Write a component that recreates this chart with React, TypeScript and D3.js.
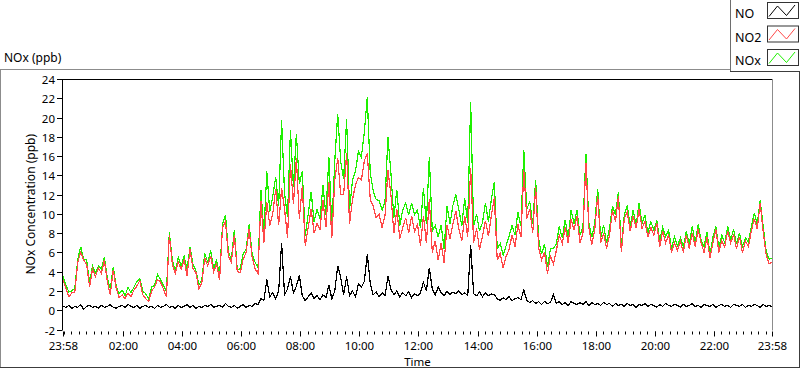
import React, { useRef, useEffect } from "react";
import * as d3 from "d3";

// one sample every 6 minutes, starting 23:58
const startTime = new Date(2020, 0, 1, 23, 58);
const endTime = new Date(2020, 0, 2, 23, 58);
const sampleStepMinutes = 6;

const noValues = [
  0.4, 0.3, 0.5, 0.2, 0.4, 0.3, 0.6, 0.1, 0.4, 0.5,
  0.3, 0.4, 0.2, 0.5, 0.3, 0.4, 0.6, 0.3, 0.2, 0.4,
  0.5, 0.3, 0.6, 0.4, 0.3, 0.5, 0.2, 0.4, 0.5, 0.3,
  0.4, 0.2, 0.5, 0.3, 0.4, 0.6, 0.3, 0.4, 0.2, 0.5,
  0.3, 0.4, 0.6, 0.3, 0.5, 0.2, 0.4, 0.3, 0.5, 0.4,
  0.6, 0.3, 0.4, 0.5, 0.3, 0.7, 0.4, 0.3, 0.5, 0.2,
  0.4, 0.6, 0.3, 0.5, 0.4, 0.7, 0.6, 1.2, 1.0, 3.2,
  1.4, 1.8, 1.2, 2.0, 7.0, 1.6, 2.2, 3.5, 1.8, 2.5,
  3.6, 1.5, 1.0, 1.4, 1.8, 1.2, 1.5, 1.1, 1.6, 1.3,
  2.6, 1.2, 2.0, 4.6, 3.4, 1.6, 3.5, 1.5, 2.0, 1.4,
  2.7, 2.4, 3.0, 5.8, 2.8, 1.6, 1.9, 1.4, 1.8, 1.5,
  3.5, 2.2, 1.6, 2.0, 1.4, 1.8, 1.5, 1.9, 1.3, 1.7,
  1.5, 1.8, 2.9, 2.0, 4.4, 2.2, 1.6, 2.4, 1.8, 1.5,
  2.0, 1.6, 1.9, 1.7, 2.0, 1.6, 1.8, 1.5, 6.8, 1.7,
  1.5, 1.9, 1.4, 1.8, 1.5, 1.7, 1.6, 1.2, 1.0, 1.3,
  1.1, 1.4, 1.0, 1.2, 1.3, 1.1, 2.1, 1.0, 0.8, 1.0,
  0.7, 0.9, 0.6, 0.9, 0.7, 0.8, 1.6, 0.7, 0.9, 0.6,
  0.8, 0.5, 0.9, 0.7, 0.6, 0.8, 0.6, 0.9, 0.5, 0.8,
  0.6, 0.7, 0.5, 0.8, 0.6, 0.7, 0.4, 0.7, 0.5, 0.6,
  0.4, 0.7, 0.5, 0.6, 0.3, 0.6, 0.5, 0.7, 0.4, 0.6,
  0.5, 0.3, 0.6, 0.4, 0.7, 0.5, 0.4, 0.6, 0.5, 0.3,
  0.6, 0.4, 0.5, 0.7, 0.4, 0.5, 0.3, 0.6, 0.5, 0.4,
  0.6, 0.3, 0.5, 0.6, 0.4, 0.5, 0.3, 0.6, 0.5, 0.4,
  0.6, 0.3, 0.5, 0.4, 0.6, 0.5, 0.3, 0.6, 0.4, 0.5, 0.4,
];

const no2Values = [
  3.1, 2.3, 1.4, 1.8, 1.9, 5.0, 6.0, 5.2, 4.8, 2.4,
  4.3, 3.5, 4.4, 3.8, 5.2, 3.0, 1.6, 4.2, 2.3, 1.3,
  1.6, 1.2, 1.8, 1.4, 2.1, 2.5, 3.1, 1.6, 1.2, 0.9,
  2.0, 2.4, 3.2, 2.9, 2.2, 1.4, 7.8, 4.8, 3.8, 5.0,
  4.3, 5.2, 3.6, 6.3, 4.3, 3.9, 2.2, 2.9, 5.4, 4.6,
  5.6, 4.0, 4.8, 3.1, 8.6, 9.2, 5.6, 5.0, 7.8, 4.0,
  3.9, 5.3, 6.0, 8.4, 5.5, 4.3, 3.8, 11.3, 7.0, 11.2,
  8.8, 10.0, 12.6, 8.8, 12.7, 10.5, 7.5, 15.2, 11.0, 15.8,
  9.5, 12.9, 6.7, 8.6, 10.5, 8.0, 9.0, 8.4, 11.4, 8.6,
  13.3, 7.5, 13.5, 15.8, 12.0, 12.0, 16.3, 9.0, 11.5, 13.0,
  13.8, 13.5, 15.5, 16.3, 11.5, 10.8, 9.6, 10.0, 8.6, 9.8,
  14.5, 12.0, 8.0, 10.5, 7.4, 8.6, 9.6, 8.0, 9.8, 8.2,
  8.9, 6.7, 9.8, 7.0, 11.5, 6.0, 7.2, 5.2, 7.0, 4.9,
  8.8, 7.4, 9.0, 10.3, 8.4, 7.2, 9.8, 7.6, 14.8, 7.0,
  8.5, 6.3, 7.7, 9.3, 7.7, 9.8, 11.7, 5.2, 5.9, 4.4,
  5.6, 6.3, 7.8, 6.6, 8.9, 7.6, 14.5, 9.5, 10.5, 8.0,
  12.8, 6.5, 5.2, 6.0, 3.8, 5.6, 4.8, 6.2, 7.8, 6.9,
  8.6, 7.0, 9.5, 8.3, 9.8, 7.0, 8.0, 15.3, 8.6, 6.8,
  8.4, 11.9, 7.0, 8.0, 6.4, 7.8, 10.4, 9.2, 11.8, 6.0,
  9.5, 10.2, 8.2, 9.8, 8.5, 10.5, 8.5, 9.2, 7.6, 8.6,
  7.8, 9.0, 6.6, 8.2, 7.0, 7.8, 6.0, 7.0, 6.2, 7.2,
  6.0, 7.8, 6.4, 8.0, 6.6, 8.4, 7.0, 6.0, 7.6, 5.4,
  7.0, 8.4, 6.0, 7.2, 6.6, 8.2, 7.0, 7.8, 6.4, 7.6,
  6.0, 7.2, 6.6, 8.2, 9.5, 8.4, 11.1, 8.2, 5.8, 4.8, 5.0,
];

const noxValues = [
  3.5, 2.6, 1.9, 2.0, 2.3, 5.3, 6.6, 5.3, 5.2, 2.9,
  4.6, 3.9, 4.6, 4.3, 5.5, 3.4, 2.2, 4.5, 2.5, 1.7,
  2.1, 1.5, 2.4, 1.8, 2.4, 3.0, 3.3, 2.0, 1.7, 1.2,
  2.4, 2.6, 3.7, 3.2, 2.6, 2.0, 8.1, 5.2, 4.0, 5.5,
  4.6, 5.6, 4.2, 6.6, 4.8, 4.1, 2.6, 3.2, 5.9, 5.0,
  6.2, 4.3, 5.2, 3.6, 8.9, 9.9, 6.0, 5.3, 8.3, 4.2,
  4.3, 5.9, 6.3, 8.9, 5.9, 5.0, 4.4, 12.5, 8.0, 14.4,
  10.2, 11.8, 13.8, 10.8, 19.7, 12.1, 9.7, 18.7, 12.8, 18.3,
  13.1, 14.4, 7.7, 10.0, 12.3, 9.2, 10.5, 9.5, 13.0, 9.9,
  15.9, 8.7, 15.5, 20.4, 15.4, 13.6, 19.8, 10.5, 13.5, 14.4,
  16.5, 15.9, 18.5, 22.1, 14.3, 12.4, 11.5, 11.4, 10.4, 11.3,
  18.0, 14.2, 9.6, 12.5, 8.8, 10.4, 11.1, 9.9, 11.1, 9.9,
  10.4, 8.5, 12.7, 9.0, 15.9, 8.2, 8.8, 7.6, 8.8, 6.4,
  10.8, 9.0, 10.9, 12.0, 10.4, 8.8, 11.6, 9.1, 21.6, 8.7,
  10.0, 8.2, 9.1, 11.1, 9.2, 11.5, 13.3, 6.4, 6.9, 5.7,
  6.7, 7.7, 8.8, 7.8, 10.2, 8.7, 16.6, 10.5, 11.3, 9.0,
  13.5, 7.4, 5.8, 6.9, 4.5, 6.4, 6.4, 6.9, 8.7, 7.5,
  9.4, 7.5, 10.4, 9.0, 10.4, 7.8, 8.6, 16.2, 9.1, 7.6,
  9.0, 12.6, 7.5, 8.8, 7.0, 8.5, 10.8, 9.9, 12.3, 6.6,
  9.9, 10.9, 8.7, 10.4, 8.8, 11.1, 9.0, 9.9, 8.0, 9.2,
  8.3, 9.3, 7.2, 8.6, 7.7, 8.3, 6.4, 7.6, 6.7, 7.5,
  6.6, 8.2, 6.9, 8.7, 7.0, 8.9, 7.3, 6.6, 8.1, 5.8,
  7.6, 8.7, 6.5, 7.8, 7.0, 8.7, 7.3, 8.4, 6.9, 8.0,
  6.6, 7.5, 7.1, 8.6, 10.1, 8.9, 11.4, 8.8, 6.2, 5.3, 5.4,
];

const yTicks = [-2, 0, 2, 4, 6, 8, 10, 12, 14, 16, 18, 20, 22, 24];
const xTickHours = [2, 4, 6, 8, 10, 12, 14, 16, 18, 20, 22];

const series = [
  { name: "NO", values: noValues, color: "#000000" },
  { name: "NO2", values: no2Values, color: "#ff4848" },
  { name: "NOx", values: noxValues, color: "#1ef000" },
];

const FONT = "'Noto Sans', 'DejaVu Sans', sans-serif";

export default function App() {
  const ref = useRef<SVGSVGElement | null>(null);

  useEffect(() => {
    const svg = d3.select(ref.current);
    svg.selectAll("*").remove();

    const left = 63;
    const right = 772;
    const top = 79;
    const bottom = 329.5;

    const x = d3.scaleTime().domain([startTime, endTime]).range([left, right]);
    const y = d3.scaleLinear().domain([-2, 24]).range([bottom, top]);
    const fmt = d3.timeFormat("%H:%M");

    svg.append("rect").attr("width", 800).attr("height", 369).attr("fill", "#fff");

    // outer frame of the graph
    svg.append("line").attr("x1", 0).attr("x2", 730).attr("y1", 69.5).attr("y2", 69.5)
      .attr("stroke", "#8c8c8c");
    svg.append("line").attr("x1", 0.5).attr("x2", 0.5).attr("y1", 69).attr("y2", 368)
      .attr("stroke", "#8c8c8c");
    svg.append("line").attr("x1", 0).attr("x2", 800).attr("y1", 367.5).attr("y2", 367.5)
      .attr("stroke", "#3c3c3c");
    svg.append("line").attr("x1", 799.5).attr("x2", 799.5).attr("y1", 71).attr("y2", 368)
      .attr("stroke", "#3c3c3c");

    // graph title
    svg.append("text").attr("x", 4).attr("y", 62).attr("font-family", FONT)
      .attr("font-size", 12).attr("fill", "#000").text("NOx (ppb)");

    // legend
    const lg = svg.append("g");
    lg.append("line").attr("x1", 730.5).attr("x2", 730.5).attr("y1", 0).attr("y2", 72)
      .attr("stroke", "#6e6e6e");
    lg.append("line").attr("x1", 730).attr("x2", 800).attr("y1", 71.5).attr("y2", 71.5)
      .attr("stroke", "#3c3c3c");
    const zig = d3.line<[number, number]>();
    const legendRows = [0, 23.5, 47];
    series.forEach((s, i) => {
      const y0 = 2 + legendRows[i];
      lg.append("text").attr("x", 735).attr("y", y0 + 16).attr("font-family", FONT)
        .attr("font-size", 12.5).attr("fill", "#000").text(s.name);
      lg.append("rect").attr("x", 767.5).attr("y", y0 + 0.5).attr("width", 31).attr("height", 16)
        .attr("fill", "#fff").attr("stroke", "#333");
      lg.append("path")
        .attr("d", zig([[769, y0 + 14.5], [777.5, y0 + 4], [786.5, y0 + 13.5], [795, y0 + 3]]))
        .attr("fill", "none").attr("stroke", s.color).attr("stroke-width", 1);
    });

    // plot area borders
    svg.append("line").attr("x1", left - 1).attr("x2", right).attr("y1", top + 0.5).attr("y2", top + 0.5)
      .attr("stroke", "#000");
    svg.append("line").attr("x1", left - 0.5).attr("x2", left - 0.5).attr("y1", top).attr("y2", bottom + 1)
      .attr("stroke", "#000");
    svg.append("line").attr("x1", right + 0.5).attr("x2", right + 0.5).attr("y1", top).attr("y2", bottom + 1)
      .attr("stroke", "#8c8c8c");

    // y axis ticks and labels
    const yAxis = svg.append("g");
    yTicks.forEach((t) => {
      const yy = Math.round(y(t)) + 0.5;
      yAxis.append("line").attr("x1", 57).attr("x2", left - 1).attr("y1", yy).attr("y2", yy)
        .attr("stroke", "#000");
      yAxis.append("text").attr("x", 55).attr("y", yy + 4.2).attr("text-anchor", "end")
        .attr("font-family", FONT).attr("font-size", 11.5).attr("fill", "#000").text(String(t));
    });
    svg.append("text")
      .attr("transform", `translate(35,${(top + bottom) / 2}) rotate(-90)`)
      .attr("text-anchor", "middle").attr("font-family", FONT).attr("font-size", 12)
      .attr("fill", "#000").text("NOx Concentration (ppb)");

    // x axis ticks
    const xAxis = svg.append("g");
    const tickTop = bottom + 2;
    const minor = d3.timeMinute.every(15)!.range(startTime, endTime);
    minor.forEach((d) => {
      const xx = Math.round(x(d)) + 0.5;
      xAxis.append("line").attr("x1", xx).attr("x2", xx).attr("y1", tickTop).attr("y2", tickTop + 3)
        .attr("stroke", "#000");
    });
    const majors = [
      startTime,
      ...xTickHours.map((h) => new Date(2020, 0, 2, h, 0)),
      endTime,
    ];
    majors.forEach((d) => {
      const xx = Math.round(x(d)) + 0.5;
      xAxis.append("line").attr("x1", xx).attr("x2", xx).attr("y1", tickTop).attr("y2", tickTop + 5)
        .attr("stroke", "#000");
      xAxis.append("text").attr("x", xx).attr("y", 349.5).attr("text-anchor", "middle")
        .attr("font-family", FONT).attr("font-size", 11.5).attr("fill", "#000").text(fmt(d));
    });
    svg.append("text").attr("x", (left + right) / 2).attr("y", 365.5).attr("text-anchor", "middle")
      .attr("font-family", FONT).attr("font-size", 11.5).attr("fill", "#000").text("Time");

    // data lines: NOx underneath, then NO2, then NO
    const timeAt = (i: number) => new Date(startTime.getTime() + i * sampleStepMinutes * 60000);
    const line = d3.line<number>()
      .x((_, i) => x(timeAt(i)))
      .y((v) => y(v));
    const plot = svg.append("g");
    [series[2], series[1], series[0]].forEach((s) => {
      plot.append("path").datum(s.values).attr("d", line)
        .attr("fill", "none").attr("stroke", s.color).attr("stroke-width", 1.2)
        .attr("shape-rendering", "crispEdges");
    });
  }, []);

  return (
    <svg
      ref={ref}
      width={800}
      height={369}
      style={{ position: "absolute", left: 0, top: 0 }}
    />
  );
}
